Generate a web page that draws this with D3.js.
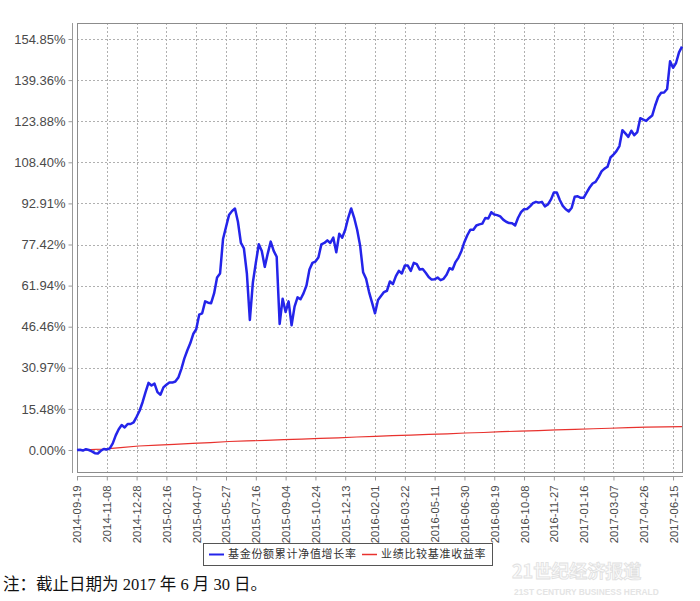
<!DOCTYPE html>
<html><head><meta charset="utf-8">
<script src="https://cdn.jsdelivr.net/npm/d3@7"></script>
<style>body{margin:0;background:#fff;}svg{display:block}</style>
</head><body>
<svg id="c" width="700" height="601"></svg>
<script>
// ---- data ----
const startDate = "2014-09-19";
const endDate = "2017-06-30";
const stepDays = 5; // fund series sampled every 5 calendar days from startDate
const fundValues = [
 0.0,0.1,-0.2,0.3,0.0,-0.5,-1.2,-1.3,-0.3,0.4,
 0.2,0.6,2.5,5.5,7.8,9.4,8.5,9.8,9.8,10.4,
 12.5,14.8,18.0,21.8,25.3,24.3,25.0,21.8,20.8,23.6,
 24.6,25.4,25.4,25.8,27.3,30.5,34.4,37.5,40.2,43.7,
 45.5,51.0,51.5,56.0,55.5,55.3,59.0,65.0,66.5,79.5,
 84.0,88.5,90.0,91.0,86.0,78.0,76.0,66.5,49.0,63.0,
 70.5,77.5,75.0,69.0,74.0,78.5,75.0,72.8,47.5,57.0,
 52.0,56.0,47.0,54.0,57.5,56.8,59.0,62.0,68.0,70.5,
 71.0,72.5,77.5,78.0,79.0,78.0,80.0,74.5,81.5,80.0,
 83.0,87.5,91.0,87.5,83.0,77.0,67.0,64.5,59.5,55.5,
 51.5,56.5,58.0,59.5,60.0,63.5,62.5,65.5,67.5,66.5,
 69.5,69.5,67.5,70.5,70.0,68.0,68.2,66.8,65.2,64.2,
 64.3,65.0,64.0,64.5,66.0,68.5,68.0,70.8,72.5,75.0,
 78.4,81.0,83.0,83.0,84.6,85.0,85.3,87.4,87.2,89.6,
 88.7,88.5,88.0,86.8,86.0,85.5,85.4,84.6,87.5,89.6,
 90.7,90.8,91.8,93.0,93.5,93.2,93.5,91.8,92.5,94.3,
 97.0,97.0,94.2,92.0,90.7,89.9,91.3,95.4,95.6,95.0,
 95.0,97.0,98.9,100.4,101.0,102.8,105.0,106.0,106.7,110.2,
 111.3,112.6,114.5,120.5,119.3,118.0,120.3,118.6,119.8,125.0,
 124.5,124.0,125.1,126.0,129.8,133.0,134.6,134.7,136.0,146.5,
 144.0,145.8,149.8,152.0
];
const benchDates = [
 "2014-09-19","2014-10-01","2014-11-01","2014-12-01","2015-01-01","2015-02-01","2015-03-01",
 "2015-04-01","2015-05-01","2015-06-01","2015-07-01","2015-08-01","2015-09-01","2015-10-01",
 "2015-11-01","2015-12-01","2016-01-01","2016-02-01","2016-03-01","2016-04-01","2016-05-01",
 "2016-06-01","2016-07-01","2016-08-01","2016-09-01","2016-10-01","2016-11-01","2016-12-01",
 "2017-01-01","2017-02-01","2017-03-01","2017-04-01","2017-05-01","2017-06-01","2017-06-30"
];
const benchValues = [
 0.0,0.1,0.3,0.9,1.5,1.8,2.1,
 2.5,2.8,3.2,3.4,3.6,3.9,4.1,
 4.4,4.6,4.9,5.1,5.4,5.6,5.9,
 6.1,6.4,6.6,6.9,7.1,7.3,7.6,
 7.8,8.0,8.2,8.4,8.6,8.7,8.8
];
const xTickLabels = ["2014-09-19","2014-11-08","2014-12-28","2015-02-16","2015-04-07","2015-05-27",
 "2015-07-16","2015-09-04","2015-10-24","2015-12-13","2016-02-01","2016-03-22","2016-05-11",
 "2016-06-30","2016-08-19","2016-10-08","2016-11-27","2017-01-16","2017-03-07","2017-04-26","2017-06-15"];
const yTickValues = [0,15.485,30.97,46.455,61.94,77.425,92.91,108.395,123.88,139.365,154.85];
const yTickLabels = ["0.00%","15.48%","30.97%","46.46%","61.94%","77.42%","92.91%","108.40%","123.88%","139.36%","154.85%"];
const yDomain = [-8.29, 160.88];
const seriesNames = ["基金份额累计净值增长率","业绩比较基准收益率"];
const noteText = "注：截止日期为 2017 年 6 月 30 日。";

// ---- layout ----
const parse = d3.utcParse("%Y-%m-%d");
const P = {left:77, right:682, top:23, bottom:472};
const svg = d3.select("#c");
const x = d3.scaleUtc().domain([parse(startDate), parse(endDate)]).range([P.left, P.right]);
const y = d3.scaleLinear().domain(yDomain).range([P.bottom, P.top]);

const fund = fundValues.map((v,i)=>({d:d3.utcDay.offset(parse(startDate), i*stepDays), v}));
const bench = benchDates.map((s,i)=>({d:parse(s), v:benchValues[i]}));

const gridColor = "#b0b0b0";
// grid
const g = svg.append("g");
g.selectAll("line.hg").data(yTickValues).join("line")
  .attr("x1",P.left).attr("x2",P.right)
  .attr("y1",d=>Math.round(y(d))+0.5).attr("y2",d=>Math.round(y(d))+0.5)
  .attr("stroke",gridColor).attr("stroke-dasharray","2,2");
g.selectAll("line.vg").data(xTickLabels).join("line")
  .attr("y1",P.top).attr("y2",P.bottom)
  .attr("x1",d=>Math.round(x(parse(d)))+0.5).attr("x2",d=>Math.round(x(parse(d)))+0.5)
  .attr("stroke",gridColor).attr("stroke-dasharray","2,2");

// frame
svg.append("rect").attr("x",P.left+0.5).attr("y",P.top+0.5)
  .attr("width",P.right-P.left).attr("height",P.bottom-P.top)
  .attr("fill","none").attr("stroke","#8c8c8c");

// y axis (offset)
const yAxis = d3.axisLeft(y).tickValues(yTickValues).tickSize(4).tickPadding(3)
  .tickFormat((d,i)=>yTickLabels[i]);
const ya = svg.append("g").attr("transform",`translate(${P.left-4.5},0)`).call(yAxis);
ya.select(".domain").attr("stroke","#9a9a9a").attr("d",`M0,${P.top}V${P.bottom+1}`);
ya.selectAll(".tick line").attr("stroke","#9a9a9a");
ya.selectAll("text").attr("font-family","'Liberation Sans',Arial,sans-serif").attr("font-size",13).attr("fill","#4a4a4a");

// x axis (offset)
const xAxis = d3.axisBottom(x).tickValues(xTickLabels.map(parse)).tickSize(4).tickPadding(4)
  .tickFormat((d,i)=>xTickLabels[i]);
const xa = svg.append("g").attr("transform",`translate(0,${P.bottom+4.5})`).call(xAxis);
xa.select(".domain").attr("stroke","#9a9a9a").attr("d",`M${P.left},0H${P.right+1}`);
xa.selectAll(".tick line").attr("stroke","#9a9a9a");
xa.selectAll("text").attr("font-family","'Liberation Sans',Arial,sans-serif").attr("font-size",11.3).attr("fill","#4a4a4a")
  .attr("text-anchor","end").attr("dy","0.35em").attr("transform","rotate(-90)")
  .attr("x",-9).attr("y",0);

// lines
const line = d3.line().x(d=>x(d.d)).y(d=>y(d.v));
svg.append("path").datum(bench).attr("d",line).attr("fill","none")
  .attr("stroke","#e8322e").attr("stroke-width",1.2);
svg.append("path").datum(fund).attr("d",line).attr("fill","none")
  .attr("stroke","#2424ea").attr("stroke-width",2.5).attr("stroke-linejoin","round");

// legend
const lg = svg.append("g");
lg.append("rect").attr("x",203.5).attr("y",543.5).attr("width",289).attr("height",22)
  .attr("fill","#fff").attr("stroke","#555");
const items = [{x:209, c:"#2424ea", w:2, t:seriesNames[0]},{x:362, c:"#e8322e", w:1.5, t:seriesNames[1]}];
items.forEach(it=>{
  lg.append("line").attr("x1",it.x).attr("x2",it.x+15).attr("y1",554.5).attr("y2",554.5)
    .attr("stroke",it.c).attr("stroke-width",it.w);
  lg.append("text").attr("x",it.x+19).attr("y",554.5).attr("dy","0.36em")
    .attr("font-family","'Noto Sans CJK SC',sans-serif").attr("font-size",11)
    .attr("letter-spacing",0.7).attr("fill","#333").text(it.t);
});

// watermark
svg.append("text").attr("x",512).attr("y",578).attr("font-family","'Noto Sans CJK SC',sans-serif")
  .attr("font-size",18).attr("font-weight","bold").attr("fill","#fbfbfb").attr("stroke","#e0e0e0").attr("stroke-width",0.8)
  .text("21世纪经济报道");
svg.append("text").attr("x",514).attr("y",595).attr("font-family","'Liberation Sans',sans-serif")
  .attr("font-size",8.4).attr("font-weight","bold").attr("fill","#e4e4e4")
  .text("21ST CENTURY BUSINESS HERALD");

// note
svg.append("text").attr("x",3).attr("y",590)
  .attr("font-family","'Liberation Serif','Noto Sans CJK SC',serif").attr("font-size",16.5).attr("fill","#111")
  .text(noteText);
</script>
</body></html>
